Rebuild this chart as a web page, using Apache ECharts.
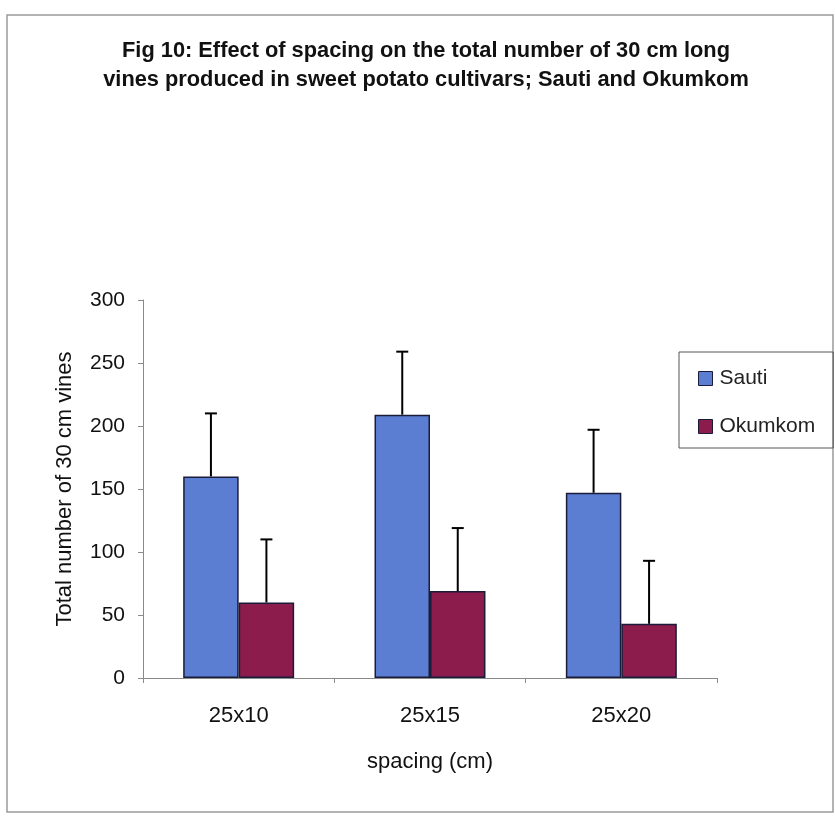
<!DOCTYPE html>
<html><head><meta charset="utf-8">
<script src="https://cdn.jsdelivr.net/npm/echarts@6/dist/echarts.min.js"></script>
<style>html,body{margin:0;padding:0;background:#fff}#c{width:835px;height:816px}</style>
</head><body><div id="c"></div>
<script>
var categories = ['25x10', '25x15', '25x20'];
var sauti = [160, 209, 147];
var okumkom = [60, 69, 43];
var sautiErr = [50, 50, 50];
var okumkomErr = [50, 50, 50];
var yTicks = [0, 50, 100, 150, 200, 250, 300];

var FONT = '"Liberation Sans", Arial, sans-serif';
var GAP = 0.42;
var errData = [];
categories.forEach(function (c, i) {
  errData.push([i, sauti[i], sautiErr[i], 0]);
  errData.push([i, okumkom[i], okumkomErr[i], 1]);
});

var chart = echarts.init(document.getElementById('c'), null, {renderer: 'canvas'});
chart.setOption({
  backgroundColor: '#fff',
  animation: false,
  textStyle: {fontFamily: FONT},
  graphic: [{
    type: 'rect', shape: {x: 7, y: 15, width: 826, height: 797},
    style: {fill: 'none', stroke: '#9a9a9a', lineWidth: 1.5}, silent: true, z: -10
  }],
  title: {
    text: 'Fig 10: Effect of spacing on the total number of 30 cm long\nvines produced in sweet potato cultivars; Sauti and Okumkom',
    left: 421, top: 31, textAlign: 'center',
    textStyle: {fontFamily: FONT, fontSize: 21.8, fontWeight: 'bold', color: '#111', lineHeight: 29, align: 'center'}
  },
  legend: {
    orient: 'vertical', left: 679, top: 352,
    padding: [16, 18, 11, 19],
    borderColor: '#555', borderWidth: 1,
    itemWidth: 14, itemHeight: 14, itemGap: 27,
    icon: 'rect',
    textStyle: {fontFamily: FONT, fontSize: 21, color: '#222', lineHeight: 14, padding: [0, 0, 0, 2]},
    data: [
      {name: 'Sauti', itemStyle: {color: '#5b7ed3', borderColor: '#1b1b3a', borderWidth: 1}},
      {name: 'Okumkom', itemStyle: {color: '#8c1c4c', borderColor: '#1b1b3a', borderWidth: 1}}
    ]
  },
  grid: {left: 143, right: 118, top: 300, bottom: 138, containLabel: false},
  xAxis: {
    type: 'category', data: categories,
    boundaryGap: true,
    name: 'spacing (cm)', nameLocation: 'middle', nameGap: 73,
    nameTextStyle: {fontFamily: FONT, fontSize: 22, color: '#111'},
    axisLine: {lineStyle: {color: '#8a8a8a', width: 1}},
    axisTick: {show: true, length: 5, alignWithLabel: false, lineStyle: {color: '#8a8a8a'}},
    axisLabel: {fontFamily: FONT, fontSize: 22, color: '#111', margin: 27},
    splitLine: {show: false}
  },
  yAxis: {
    type: 'value', min: 0, max: 300, interval: 50,
    name: 'Total number of 30 cm vines', nameLocation: 'middle', nameGap: 67,
    nameTextStyle: {fontFamily: FONT, fontSize: 22, color: '#111'},
    axisLine: {show: true, lineStyle: {color: '#8a8a8a', width: 1}},
    axisTick: {show: true, length: 5, lineStyle: {color: '#8a8a8a'}},
    axisLabel: {fontFamily: FONT, fontSize: 21, color: '#111', margin: 18,
      formatter: function (v) { return yTicks.indexOf(v) >= 0 ? String(v) : ''; }},
    splitLine: {show: false}
  },
  series: [
    {name: 'Sauti', type: 'bar', data: sauti, barGap: '0%', barCategoryGap: (GAP * 100) + '%',
     itemStyle: {color: '#5b7ed3', borderColor: '#1b1b3a', borderWidth: 1.5}},
    {name: 'Okumkom', type: 'bar', data: okumkom, barGap: '0%', barCategoryGap: (GAP * 100) + '%',
     itemStyle: {color: '#8c1c4c', borderColor: '#1b1b3a', borderWidth: 1.5}},
    {
      name: 'err', type: 'custom', data: errData, z: 10,
      renderItem: function (params, api) {
        var ci = api.value(0), v = api.value(1), e = api.value(2), s = api.value(3);
        var band = api.size([1, 0])[0];
        var bw = band * (1 - GAP) / 2;
        var base = api.coord([ci, v]);
        var top = api.coord([ci, v + e]);
        var x = base[0] + (s === 0 ? -bw / 2 : bw / 2);
        var cap = 6;
        return {
          type: 'group',
          children: [
            {type: 'line', shape: {x1: x, y1: base[1], x2: x, y2: top[1]}, style: {stroke: '#000', lineWidth: 2}},
            {type: 'line', shape: {x1: x - cap, y1: top[1], x2: x + cap, y2: top[1]}, style: {stroke: '#000', lineWidth: 2}}
          ]
        };
      }
    }
  ]
});
</script></body></html>
